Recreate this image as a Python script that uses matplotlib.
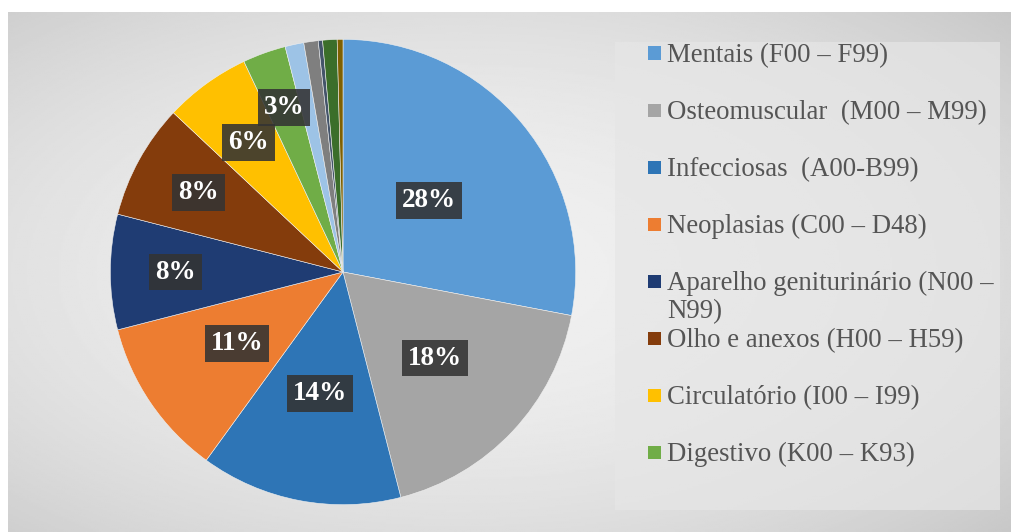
import numpy as np
import matplotlib.pyplot as plt
from matplotlib.patches import Rectangle

# slice data, clockwise from 12 o'clock
values = [28, 18, 14, 11, 8, 8, 6, 3, 1.3, 1.0, 0.3, 1.0, 0.4]
labels = ["Mentais (F00 – F99)",
          "Osteomuscular  (M00 – M99)",
          "Infecciosas  (A00-B99)",
          "Neoplasias (C00 – D48)",
          "Aparelho geniturinário (N00 –\nN99)",
          "Olho e anexos (H00 – H59)",
          "Circulatório (I00 – I99)",
          "Digestivo (K00 – K93)"]
colors = ["#5B9BD5", "#A5A5A5", "#2E75B6", "#ED7D31", "#1F3C73", "#843C0C",
          "#FFC000", "#70AD47", "#9DC3E6", "#7F7F7F", "#44546A", "#3B6E2A", "#7F6000"]
# how far out each percent label sits (fraction of radius)
label_r = [0.48, 0.54, 0.53, 0.55, 0.72, 0.71, 0.69, 0.75]

plt.rcParams['font.family'] = ['Liberation Serif', 'DejaVu Serif']

W, H = 1011, 532
fig = plt.figure(figsize=(W / 100, H / 100), dpi=100)
fig.patch.set_facecolor("white")

# grey vignette background
bg = fig.add_axes([8 / W, 0, 1 - 8 / W, 520 / H])
yy, xx = np.mgrid[0:1:300j, 0:1:500j]
d = ((xx - 0.45) / 0.75) ** 2 + ((yy - 0.5) / 0.75) ** 2
shade = np.clip(0.94 - 0.16 * d, 0.78, 0.95)
bg.imshow(shade, cmap="gray", vmin=0, vmax=1, aspect="auto", extent=[0, 1, 0, 1])
bg.add_patch(Rectangle((607 / 1003, 22 / 520), 385 / 1003, 468 / 520,
                       facecolor="#e6e6e6", edgecolor="none", alpha=0.7))
bg.axis("off")

# pie
ax = fig.add_axes([108 / W, 25 / H, 470 / W, 470 / H])
wedges, _ = ax.pie(values, colors=colors, startangle=90, counterclock=False,
                   radius=1, wedgeprops=dict(linewidth=0.4, edgecolor="#f0f0f0"))
ax.set_xlim(-1.01, 1.01)
ax.set_ylim(-1.01, 1.01)
ax.set_aspect("equal")

total = sum(values)
for i, w in enumerate(wedges[:len(labels)]):
    mid = np.deg2rad((w.theta1 + w.theta2) / 2)
    r = label_r[i]
    ax.text(r * np.cos(mid), r * np.sin(mid), f"{round(values[i] / total * 100)}%",
            ha="center", va="center", color="white", fontsize=19.5, fontweight="bold",
            bbox=dict(boxstyle="square,pad=0.22", facecolor="#333333",
                      edgecolor="none", alpha=0.88))

# legend drawn by hand to keep Excel's spacing
fs = 19.3
em = fs * 100 / 72
for i, lab in enumerate(labels):
    yc = 53 + 57 * i
    fig.patches.append(Rectangle((648 / W, 1 - (yc + 6.5) / H), 13 / W, 13 / H,
                                 facecolor=colors[i], edgecolor="none",
                                 transform=fig.transFigure, figure=fig))
    for j, line in enumerate(lab.split("\n")):
        base = yc + 0.33 * em + j * 28
        fig.text(667 / W, 1 - base / H, line, ha="left", va="baseline",
                 fontsize=fs, color="#555555")

fig.savefig("out.png", dpi=100)
